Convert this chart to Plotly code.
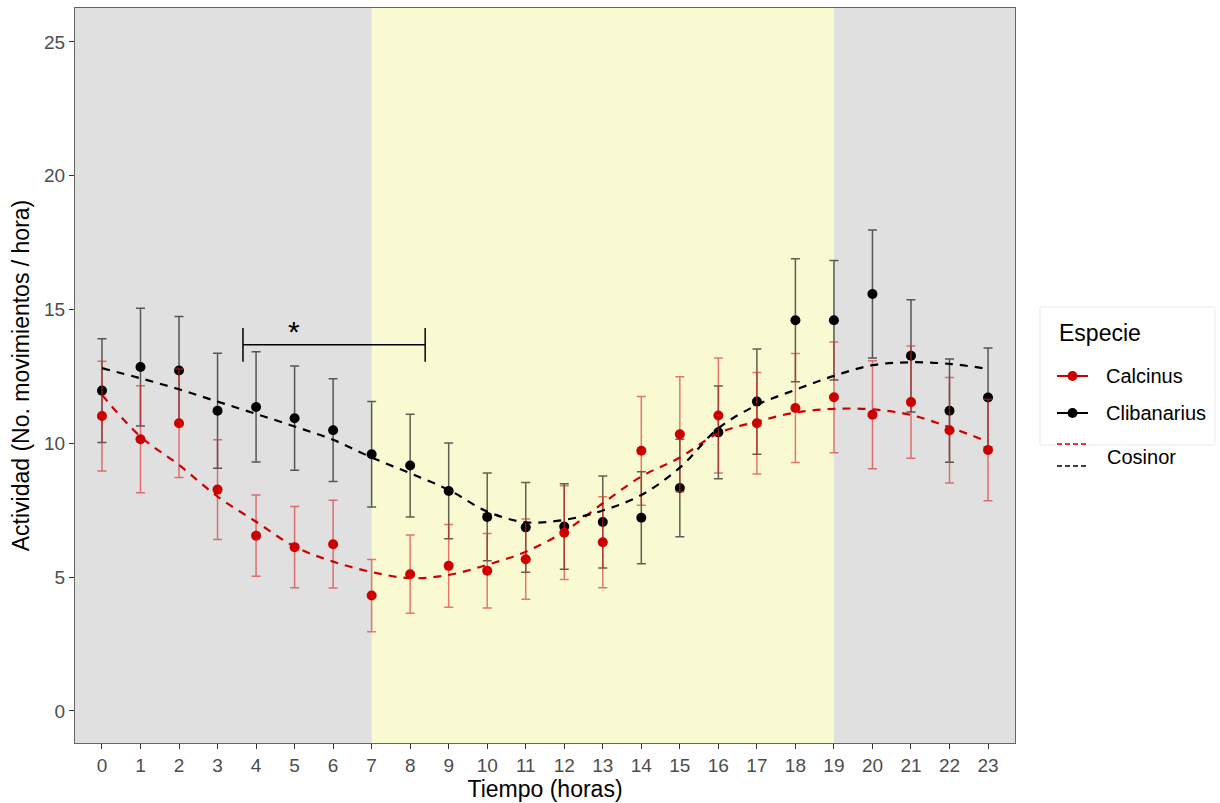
import plotly.graph_objects as go

# ---------------- data ----------------
hours = list(range(24))

calcinus_mean = [11.02, 10.15, 10.75, 8.27, 6.55, 6.12, 6.23, 4.31, 5.11, 5.42, 5.24, 5.67,
                 6.66, 6.30, 9.72, 10.34, 11.04, 10.75, 11.32, 11.72, 11.07, 11.54, 10.49, 9.75]
calcinus_se = [2.05, 2.00, 2.03, 1.86, 1.52, 1.52, 1.64, 1.35, 1.46, 1.55, 1.39, 1.50,
               1.75, 1.70, 2.03, 2.15, 2.15, 1.90, 2.04, 2.07, 2.02, 2.10, 1.97, 1.90]

clib_mean = [11.97, 12.85, 12.72, 11.22, 11.36, 10.94, 10.49, 9.59, 9.17, 8.22, 7.25, 6.86,
             6.89, 7.06, 7.22, 8.33, 10.41, 11.56, 14.60, 14.60, 15.58, 13.27, 11.22, 11.71]
clib_se = [1.94, 2.20, 2.02, 2.15, 2.06, 1.95, 1.92, 1.97, 1.92, 1.79, 1.64, 1.68,
           1.60, 1.72, 1.72, 1.82, 1.73, 1.97, 2.30, 2.23, 2.39, 2.10, 1.93, 1.85]

cosinor_calcinus = [11.81, 10.25, 9.19, 8.01, 7.07, 6.14, 5.58, 5.19, 4.96, 5.08, 5.46, 5.95,
                    6.70, 7.76, 8.76, 9.47, 10.38, 10.81, 11.15, 11.29, 11.27, 11.06, 10.60, 10.06]
cosinor_clib = [12.81, 12.43, 12.02, 11.56, 11.10, 10.63, 10.13, 9.47, 8.88, 8.26, 7.45, 7.05,
                7.14, 7.49, 8.07, 9.09, 10.56, 11.43, 12.00, 12.52, 12.92, 13.03, 12.97, 12.78]

light_period = [7, 19]          # hours of light (yellow band)
bracket_x = [3.66, 8.39]        # significance bracket extent (hours)
bracket_y = 13.68
bracket_half = 0.63
star_label = "*"

series_names = ["Calcinus", "Clibanarius"]
legend_title = "Especie"
cosinor_label = "Cosinor"
x_title = "Tiempo (horas)"
y_title = "Actividad (No. movimientos / hora)"
x_ticks = list(range(24))
y_ticks = [0, 5, 10, 15, 20, 25]

# ---------------- style ----------------
RED = "#CD0000"
BLACK = "#000000"
FONT = "Liberation Sans, Arial, Helvetica, sans-serif"
W, H = 1220, 803
ML, MR, MT, MB = 75, 205, 8, 60
PW, PH = W - ML - MR, H - MT - MB


def px(xp):
    return (xp - ML) / PW


def py(yp):
    return (H - MB - yp) / PH


fig = go.Figure()

# Clibanarius points + error bars (drawn first)
fig.add_trace(go.Scatter(
    x=hours, y=clib_mean, mode="markers",
    marker=dict(color=BLACK, size=10),
    error_y=dict(type="data", array=clib_se, visible=True,
                 color="rgba(0,0,0,0.62)", thickness=1.5, width=4.5),
    showlegend=False, name=series_names[1]))

# Calcinus points + error bars
fig.add_trace(go.Scatter(
    x=hours, y=calcinus_mean, mode="markers",
    marker=dict(color=RED, size=10),
    error_y=dict(type="data", array=calcinus_se, visible=True,
                 color="rgba(215,40,40,0.62)", thickness=1.5, width=4.5),
    showlegend=False, name=series_names[0]))

# Cosinor fits
fig.add_trace(go.Scatter(
    x=hours, y=cosinor_calcinus, mode="lines",
    line=dict(color=RED, width=2.2, dash="8px,7px", shape="spline", smoothing=1.0),
    showlegend=False, name="Cosinor Calcinus"))
fig.add_trace(go.Scatter(
    x=hours, y=cosinor_clib, mode="lines",
    line=dict(color=BLACK, width=2.2, dash="8px,7px", shape="spline", smoothing=1.0),
    showlegend=False, name="Cosinor Clibanarius"))

# Significance bracket
bx0, bx1 = bracket_x
fig.add_trace(go.Scatter(
    x=[bx0, bx0, None, bx0, bx1, None, bx1, bx1],
    y=[bracket_y - bracket_half, bracket_y + bracket_half, None,
       bracket_y, bracket_y, None,
       bracket_y - bracket_half, bracket_y + bracket_half],
    mode="lines", line=dict(color=BLACK, width=1.5),
    showlegend=False, hoverinfo="skip"))

fig.add_annotation(x=(bx0 + bx1) / 2 - 1.05, y=bracket_y + 1.19, text=star_label,
                   showarrow=False, xanchor="center", yanchor="top",
                   font=dict(family=FONT, size=30, color=BLACK))

# Light period band
fig.add_shape(type="rect", xref="x", yref="paper", x0=light_period[0], x1=light_period[1],
              y0=0, y1=1, fillcolor="#FAFAD2", line=dict(width=0), layer="below")

# ---------------- legend (drawn in paper space) ----------------
fig.add_shape(type="rect", xref="paper", yref="paper",
              x0=px(1040), x1=px(1215), y0=py(445), y1=py(307),
              fillcolor="white", line=dict(color="#EBEBEB", width=1))
fig.add_annotation(xref="paper", yref="paper", x=px(1057), y=py(333), text=legend_title,
                   showarrow=False, xanchor="left", yanchor="middle",
                   font=dict(family=FONT, size=23, color=BLACK))
for nm, col, yy in zip(series_names, [RED, BLACK], [376, 413]):
    fig.add_shape(type="line", xref="paper", yref="paper", x0=px(1057), x1=px(1088),
                  y0=py(yy), y1=py(yy), line=dict(color=col, width=2))
    fig.add_shape(type="circle", xref="paper", yref="paper",
                  xsizemode="pixel", ysizemode="pixel",
                  xanchor=px(1072.5), yanchor=py(yy), x0=-5, x1=5, y0=-5, y1=5,
                  fillcolor=col, line=dict(color=col, width=0))
    fig.add_annotation(xref="paper", yref="paper", x=px(1104), y=py(yy), text=nm,
                       showarrow=False, xanchor="left", yanchor="middle",
                       font=dict(family=FONT, size=20, color=BLACK))

fig.add_shape(type="line", xref="paper", yref="paper", x0=px(1057), x1=px(1087),
              y0=py(444), y1=py(444), line=dict(color=RED, width=1.5, dash="5px,3px"))
fig.add_shape(type="line", xref="paper", yref="paper", x0=px(1057), x1=px(1087),
              y0=py(466), y1=py(466), line=dict(color=BLACK, width=1.5, dash="5px,3px"))
fig.add_annotation(xref="paper", yref="paper", x=px(1105), y=py(457), text=cosinor_label,
                   showarrow=False, xanchor="left", yanchor="middle",
                   font=dict(family=FONT, size=20, color=BLACK))

axis_common = dict(
    showgrid=False, zeroline=False, showline=True, mirror=True,
    linecolor="#666666", linewidth=1.3,
    ticks="outside", ticklen=5, tickwidth=1.2, tickcolor="#333333",
    tickfont=dict(family=FONT, size=19, color="#4D4D4D"),
)

fig.update_layout(
    width=W, height=H,
    margin=dict(l=ML, r=MR, t=MT, b=MB),
    paper_bgcolor="white", plot_bgcolor="#E0E0E0",
    font=dict(family=FONT, color=BLACK),
    xaxis=dict(range=[-0.7, 23.7], tickmode="array", tickvals=x_ticks,
               ticktext=[str(t) for t in x_ticks],
               title=dict(text=x_title, font=dict(family=FONT, size=23, color=BLACK), standoff=3),
               **axis_common),
    yaxis=dict(range=[-1.2, 26.27], tickmode="array", tickvals=y_ticks,
               ticktext=[str(t) for t in y_ticks],
               title=dict(text=y_title, font=dict(family=FONT, size=23, color=BLACK), standoff=7),
               **axis_common),
    showlegend=False,
)

fig.write_html("out.html")
